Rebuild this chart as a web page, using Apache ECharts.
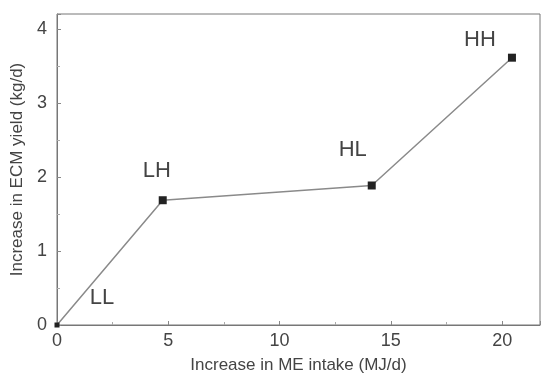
<!DOCTYPE html>
<html><head><meta charset="utf-8">
<script src="https://cdn.jsdelivr.net/npm/echarts@6/dist/echarts.min.js"></script>
<style>html,body{margin:0;padding:0;background:#fff}#c{width:546px;height:379px}</style>
</head><body><div id="c"></div>
<script>
const groups = ['LL','LH','HL','HH'];
const meIntake = [0, 4.75, 14.14, 20.44];
const ecmYield = [0, 1.685, 1.884, 3.61];
const xTicks = [0,5,10,15,20];
const yTicks = [0,1,2,3,4];
const labelOffsets = [[45,-27],[-6,-29],[-19,-36],[-32,-18]];

const chart = echarts.init(document.getElementById('c'));
const font = 'Liberation Sans, Arial, sans-serif';
chart.setOption({
  animation:false,
  grid:{left:57,right:6,top:14,bottom:49,show:true,borderColor:'#777',borderWidth:1},
  xAxis:{type:'value',min:0,max:21.7,interval:5,
    name:'Increase in ME intake (MJ/d)',nameLocation:'middle',nameGap:32,
    nameTextStyle:{fontFamily:font,fontSize:17,color:'#444'},
    axisLine:{show:true,lineStyle:{color:'#777'}},
    axisTick:{show:true,inside:true,length:4,lineStyle:{color:'#888'}},
    minorTick:{show:true,splitNumber:2,length:3,lineStyle:{color:'#aaa'}},
    splitLine:{show:false},
    axisLabel:{fontFamily:font,fontSize:18,color:'#444',margin:7,
      formatter:v=>xTicks.includes(v)?String(v):''}},
  yAxis:{type:'value',min:0,max:4.2,interval:1,
    name:'Increase in ECM yield (kg/d)',nameLocation:'middle',nameGap:28,
    nameTextStyle:{fontFamily:font,fontSize:17,color:'#444'},
    axisLine:{show:true,lineStyle:{color:'#777'}},
    axisTick:{show:true,inside:true,length:4,lineStyle:{color:'#888'}},
    minorTick:{show:true,splitNumber:2,length:3,lineStyle:{color:'#aaa'}},
    splitLine:{show:false},
    axisLabel:{fontFamily:font,fontSize:18,color:'#444',margin:10,
      formatter:v=>yTicks.includes(v)?String(v):''}},
  series:[{
    type:'line',
    data:meIntake.map((x,i)=>({value:[x,ecmYield[i]],
      symbolSize:i===0?5:8,
      label:{show:true,formatter:groups[i],offset:labelOffsets[i],position:'inside'}})),
    symbol:'rect',
    itemStyle:{color:'#222'},
    lineStyle:{color:'#8a8a8a',width:1.5},
    label:{fontFamily:font,fontSize:22,color:'#444'},
    z:5
  }]
});
</script></body></html>
